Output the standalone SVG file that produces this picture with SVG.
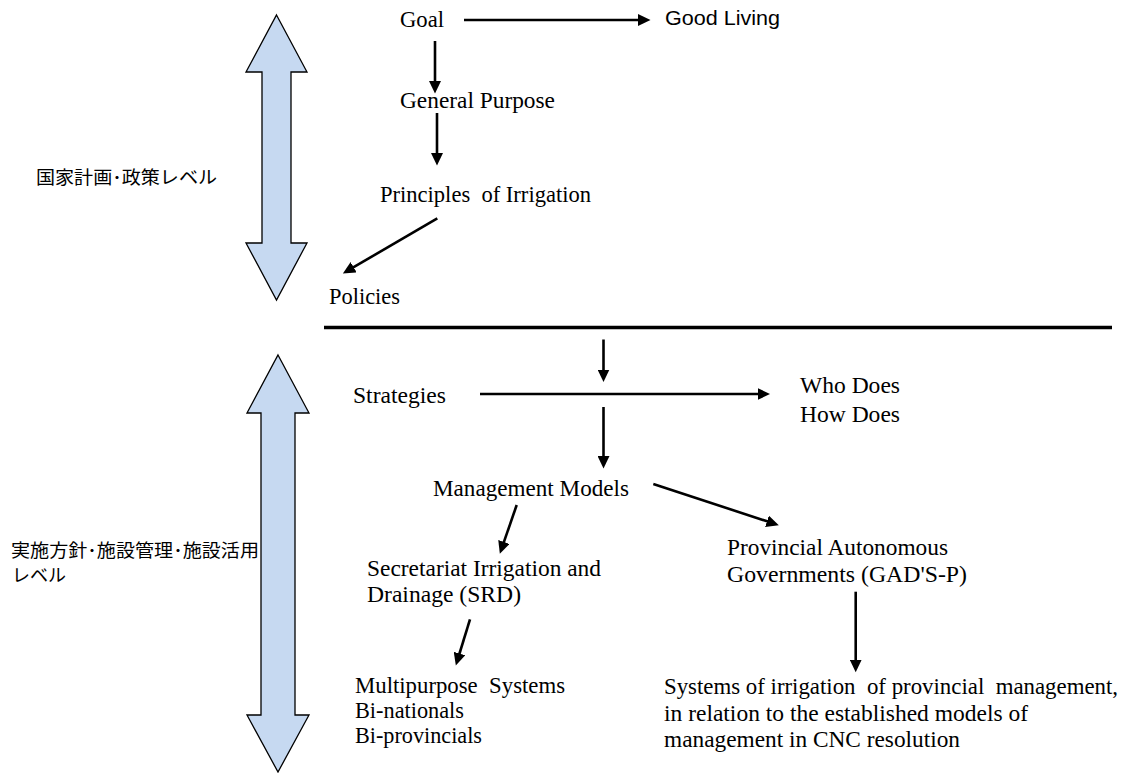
<svg xmlns="http://www.w3.org/2000/svg" width="1130" height="773" viewBox="0 0 1130 773">
  <style>
    .t { font-family: "Liberation Serif", "Times New Roman", serif; font-size: 23px; fill: #000; white-space: pre; }
    .s { font-family: "Liberation Sans", Arial, sans-serif; font-size: 21px; fill: #000; }
    .jp { font-family: "Noto Sans CJK JP", sans-serif; font-size: 18px; fill: #000; }
    .band { fill: #c6d9f1; stroke: #000; stroke-width: 1.3; stroke-linejoin: miter; }
    .link { fill: none; stroke: #000; stroke-width: 2.6; marker-end: url(#head); }
  </style>
  <defs>
    <marker id="head" markerUnits="userSpaceOnUse" markerWidth="13" markerHeight="12" refX="1" refY="6" orient="auto">
      <path d="M0,0 L12.5,6 L0,12 z" fill="#000"/>
    </marker>
  </defs>
  <rect width="1130" height="773" fill="#fff"/>

  <!-- level bands -->
  <g id="band-national">
    <polygon class="band" points="276.5,15 307,72 291,72 291,243 307,243 276.5,300 246,243 262,243 262,72 246,72"/>
    <text class="jp" x="36" y="183.5" textLength="181" lengthAdjust="spacingAndGlyphs">国家計画･政策レベル</text>
  </g>
  <g id="band-implementation">
    <polygon class="band" points="278,355 309,413 295,413 295,715 309,715 278,772 247,715 261,715 261,413 247,413"/>
    <text class="jp" x="11" y="557" textLength="248" lengthAdjust="spacingAndGlyphs">実施方針･施設管理･施設活用</text>
    <text class="jp" x="12" y="581.5" textLength="54" lengthAdjust="spacingAndGlyphs">レベル</text>
  </g>

  <!-- divider between the two levels -->
  <line id="divider" x1="324" y1="327.5" x2="1112" y2="327.5" stroke="#000" stroke-width="3.6"/>

  <!-- connectors -->
  <g id="connectors">
    <line class="link" x1="464" y1="20" x2="639" y2="20"/>
    <line class="link" x1="435" y1="41" x2="435" y2="82"/>
    <line class="link" x1="437" y1="113" x2="437" y2="154"/>
    <line class="link" x1="437.3" y1="218.3" x2="352.8" y2="267.7"/>
    <line class="link" x1="603.5" y1="339.5" x2="603.5" y2="370.5"/>
    <line class="link" x1="480" y1="394" x2="758.5" y2="394"/>
    <line class="link" x1="603.5" y1="407" x2="603.5" y2="457"/>
    <line class="link" x1="653.3" y1="484" x2="767.9" y2="521.6"/>
    <line class="link" x1="516.7" y1="505" x2="503.6" y2="542.9"/>
    <line class="link" x1="470" y1="619.3" x2="459.2" y2="654.5"/>
    <line class="link" x1="855.7" y1="591.7" x2="855.7" y2="660.7"/>
  </g>

  <!-- nodes -->
  <g id="goal">
    <text class="t" x="400" y="27.3" textLength="44" lengthAdjust="spacingAndGlyphs">Goal</text>
  </g>
  <g id="good-living">
    <text class="s" x="665" y="25" textLength="115" lengthAdjust="spacingAndGlyphs">Good Living</text>
  </g>
  <g id="general-purpose">
    <text class="t" x="400" y="108.3" textLength="155" lengthAdjust="spacingAndGlyphs">General Purpose</text>
  </g>
  <g id="principles">
    <text class="t" x="380" y="201.5" textLength="211" lengthAdjust="spacingAndGlyphs">Principles  of Irrigation</text>
  </g>
  <g id="policies">
    <text class="t" x="329" y="304" textLength="71" lengthAdjust="spacingAndGlyphs">Policies</text>
  </g>
  <g id="strategies">
    <text class="t" x="353" y="403" textLength="93" lengthAdjust="spacingAndGlyphs">Strategies</text>
  </g>
  <g id="who-how">
    <text class="t" x="800" y="393.3" textLength="100" lengthAdjust="spacingAndGlyphs">Who Does</text>
    <text class="t" x="800" y="421.5" textLength="100" lengthAdjust="spacingAndGlyphs">How Does</text>
  </g>
  <g id="management-models">
    <text class="t" x="433" y="496" textLength="196" lengthAdjust="spacingAndGlyphs">Management Models</text>
  </g>
  <g id="srd">
    <text class="t" x="367" y="576" textLength="234" lengthAdjust="spacingAndGlyphs">Secretariat Irrigation and</text>
    <text class="t" x="367" y="601.7" textLength="154" lengthAdjust="spacingAndGlyphs">Drainage (SRD)</text>
  </g>
  <g id="gads-p">
    <text class="t" x="727" y="555" textLength="221" lengthAdjust="spacingAndGlyphs">Provincial Autonomous</text>
    <text class="t" x="727" y="581.7" textLength="240" lengthAdjust="spacingAndGlyphs">Governments (GAD'S-P)</text>
  </g>
  <g id="multipurpose">
    <text class="t" x="355" y="692.5" textLength="210" lengthAdjust="spacingAndGlyphs">Multipurpose  Systems</text>
    <text class="t" x="355" y="717.5" textLength="109" lengthAdjust="spacingAndGlyphs">Bi-nationals</text>
    <text class="t" x="355" y="743" textLength="127" lengthAdjust="spacingAndGlyphs">Bi-provincials</text>
  </g>
  <g id="provincial-systems">
    <text class="t" x="664" y="694" textLength="454" lengthAdjust="spacingAndGlyphs">Systems of irrigation  of provincial  management,</text>
    <text class="t" x="664" y="720.5" textLength="364" lengthAdjust="spacingAndGlyphs">in relation to the established models of</text>
    <text class="t" x="664" y="747" textLength="296" lengthAdjust="spacingAndGlyphs">management in CNC resolution</text>
  </g>
</svg>
